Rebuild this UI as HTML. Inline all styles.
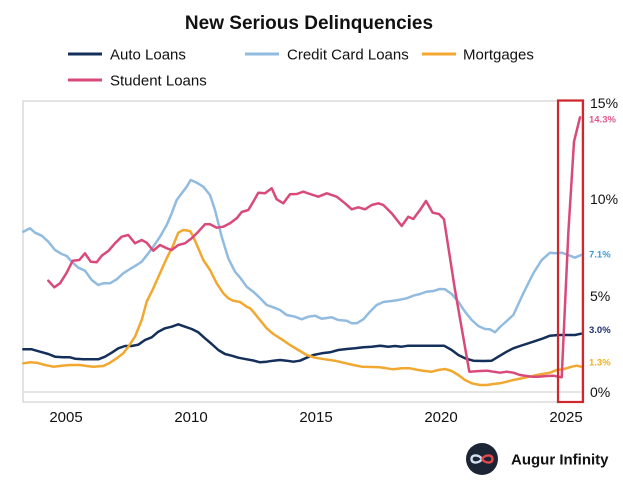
<!DOCTYPE html>
<html>
<head>
<meta charset="utf-8">
<style>
  html, body { margin: 0; padding: 0; background: #ffffff; }
  body { width: 623px; height: 486px; overflow: hidden; }
  svg { display: block; }
  text { font-family: "Liberation Sans", Arial, sans-serif; }
</style>
</head>
<body>
<svg width="623" height="486" viewBox="0 0 623 486" xmlns="http://www.w3.org/2000/svg">
  <rect x="0" y="0" width="623" height="486" fill="#ffffff"/>

  <!-- Title -->
  <text x="309" y="29" text-anchor="middle" font-size="19" font-weight="bold" fill="#111111">New Serious Delinquencies</text>

  <!-- Legend -->
  <line x1="68" y1="54" x2="102" y2="54" stroke="#142f5a" stroke-width="3"/>
  <text x="110" y="59.5" font-size="15" fill="#111111">Auto Loans</text>
  <line x1="245" y1="54" x2="279" y2="54" stroke="#92bbe0" stroke-width="3"/>
  <text x="287" y="59.5" font-size="15" fill="#111111">Credit Card Loans</text>
  <line x1="422" y1="54" x2="456" y2="54" stroke="#f2a830" stroke-width="3"/>
  <text x="463" y="59.5" font-size="15" fill="#111111">Mortgages</text>
  <line x1="68" y1="80" x2="102" y2="80" stroke="#d94a79" stroke-width="3"/>
  <text x="110" y="85.5" font-size="15" fill="#111111">Student Loans</text>

  <!-- Plot frame -->
  <rect x="23" y="101" width="559" height="301" fill="none" stroke="#dadada" stroke-width="1.5"/>
  <line x1="23" y1="392" x2="582" y2="392" stroke="#d6d6d6" stroke-width="1.2"/>

  <!-- Series -->
  <g fill="none" stroke-width="2.5" stroke-linejoin="round" stroke-linecap="round">
    <polyline stroke="#142f5a" points="23.3,349.3 31.7,349.3 40,351.7 48.3,354 55,356.7 63.3,357.3 70,357.3 75,358.7 83.3,359.3 91.7,359.3 98.3,359.3 105,356.7 111.7,352.7 118.3,348.3 125,346 131.7,346 138.3,344.7 145,340 151.7,337.3 158.3,331.7 165,328.3 171.7,326.7 178.3,324.3 185,326.7 191.7,329 198.3,332.3 205,338.3 211.7,344 218.3,350 225,354 231.7,355.7 238.3,357.7 246.7,359.3 253.3,360.5 260,362.3 266.7,361.7 273.3,360.7 280,360 286.7,360.7 293.3,361.7 300,360.7 306.7,357.7 313.3,355 321.7,353.3 330,352.3 338.3,350 346.7,349 355,348.3 363.3,347.3 371.7,346.7 380,345.7 388.3,346.7 395,346 401.7,346.7 408.3,345.7 416.7,345.7 426.7,345.7 436.7,345.7 444,345.7 451.7,350 458.3,355 465,358.3 473.3,360.7 483.3,361 491.7,360.7 498.3,356.7 506.7,351.7 513.3,348.3 520,346 533.3,341.7 543.3,338.3 550,335.7 558.3,335 566.7,335 575,335 581,333.7"/>
    <polyline stroke="#92bbe0" points="23.3,231.7 30,228.3 35,232.7 41.7,235.7 48.3,241.7 55,250 61.7,254 66.7,256 71.7,261.7 78.3,267.7 85,270.7 91.7,280 98.3,285 103.3,283.3 110,283.3 116.7,279.3 123.3,273.3 130,269 136.7,265 141.7,261.7 148.3,253.3 153.3,246.7 160,236.7 166.7,225 171.7,213.3 176.7,200 181.7,193.3 186.7,186.7 190.7,180 196.7,182.7 203.3,186.7 210,195 215,210 221.7,236.7 228.3,258.3 235,271.7 240,277.5 246.7,286.7 253.3,291.7 260,298 266.7,305 273.3,307.3 280,310 286.7,315 295,316.7 301.7,319.3 308.3,316.7 315,315.7 321.7,318.7 331.7,317.3 338.3,320 346.7,320.7 351.7,323.3 356.7,323.3 363.3,319.3 370,311.7 376.7,305 383.3,302 391.7,301 398.3,300 406.7,298.3 413.3,295.7 420,294 426.7,291.7 433.3,291 440,289 445,289.3 451.7,294 458.3,301.7 465,311.7 471.7,320 478.3,326 485,329 490,329.3 495,332.3 500,327 506.7,321 513.3,315 523.3,293.3 533.3,273.3 541.7,260 550,252.7 555,253.3 561.7,252.7 568.3,255 575,257.7 581,255"/>
    <polyline stroke="#f2a830" points="23.3,363.3 30,362.3 36.7,362.7 45,365 53.3,366.7 61.7,365.7 70,365 80,365 86.7,366 93.3,366.7 103.3,366 110,362.7 116.7,358.3 123.3,353.3 128.3,346.7 135,336.7 141.7,320 146.7,301.7 153.3,288.3 160,273.3 166.7,258.3 173.3,245 178.3,232.7 183.3,230 190,231 193.3,236.7 198.3,248.3 203.3,260 210,270 216.7,283.3 223.3,293.3 228.3,298.3 233.3,300.7 240,302 246.7,306.7 250,308.3 253.3,311.7 258.3,318 266.7,328.3 273.3,334 281.7,339.3 290,345 298.3,350 306.7,355 315,357.7 325,359.3 335,360.7 343.3,362.7 353.3,365 361.7,366.7 371.7,367 380,367.3 386.7,368.3 393.3,369.3 401.7,368.3 410,368.3 418.3,370 425,371 431.7,371.7 438.3,370 445,369 451.7,371 458.3,375 465,380 471.7,383.3 480,385 486.7,385 493.3,384 500,383.3 506.7,381.7 513.3,380 526.7,377.3 540,374.3 550,372.7 556.7,370 563.3,369.3 571.7,366.7 576.7,365.7 581,366.7"/>
    <polyline stroke="#d94a79" points="48.3,280.7 54.3,287.3 60,283.3 66.7,272.7 72.7,260.7 79.3,260 85,253.3 90.7,261.7 96.7,262.3 101.7,255.7 108.3,251 115,243.3 121.7,236.7 128.3,235 135,243.3 141.7,240 146.7,242.7 153.3,250.7 160,245 166.7,248.3 171.7,250 178.3,245 185,243.3 191.7,238.3 198.3,231.7 205,224.3 210,224.3 216.7,227.7 223.3,226.7 230,223.3 236.7,218.3 241.7,212 248.3,210 253.3,201.7 258.3,192.7 265,193.3 271.7,188.3 276.7,199.3 283.3,203.3 290,194.3 296.7,194 303.3,191.7 310,194 318.3,196.7 326.7,193.3 336.7,196.7 345,203.3 351.7,209.3 358.3,207.3 365,209.3 371.7,205 378.3,203.3 383.3,205 391.7,213.3 401.7,226 408.3,216.7 413.3,219 420,210 426,201 432.7,212.7 439,214 444,219.3 455,290 469.3,371.7 480,371 486.7,370.7 493.3,371.7 500,372.7 506.7,371.7 513.3,372.7 520,375 531.7,376.7 538.3,376.7 546.7,376 553.3,375.7 561.7,377.3 568.3,233.3 574,141.7 580,117.3"/>
  </g>

  <!-- Red highlight box -->
  <rect x="558" y="100.5" width="25" height="301.5" fill="none" stroke="#d0262c" stroke-width="2.2"/>

  <!-- Y axis labels -->
  <g font-size="14" fill="#111111">
    <text x="590" y="108">15%</text>
    <text x="590" y="204">10%</text>
    <text x="590" y="301">5%</text>
    <text x="590" y="397">0%</text>
  </g>

  <!-- Value labels -->
  <g font-size="9.5" font-weight="bold">
    <text x="589" y="122.5" fill="#e0568a">14.3%</text>
    <text x="589" y="257.5" fill="#3d9ad6">7.1%</text>
    <text x="589" y="333" fill="#1d2f6e">3.0%</text>
    <text x="589" y="365.5" fill="#efb020">1.3%</text>
  </g>

  <!-- X axis labels -->
  <g font-size="15" fill="#111111" text-anchor="middle">
    <text x="66" y="422">2005</text>
    <text x="191" y="422">2010</text>
    <text x="316" y="422">2015</text>
    <text x="441" y="422">2020</text>
    <text x="566" y="422">2025</text>
  </g>

  <!-- Logo -->
  <circle cx="482" cy="459" r="16" fill="#1c2533"/>
  <path d="M482,459 C479,454.5 471.5,454 471.5,459 C471.5,464 479,463.5 482,459" fill="none" stroke="#d3e0ee" stroke-width="2.4"/>
  <path d="M482,459 C485,454.5 492.5,454 492.5,459 C492.5,464 485,463.5 482,459" fill="none" stroke="#e2474b" stroke-width="2.4"/>
  <text x="511" y="464.5" font-size="15" font-weight="bold" fill="#111111">Augur Infinity</text>
</svg>
</body>
</html>
